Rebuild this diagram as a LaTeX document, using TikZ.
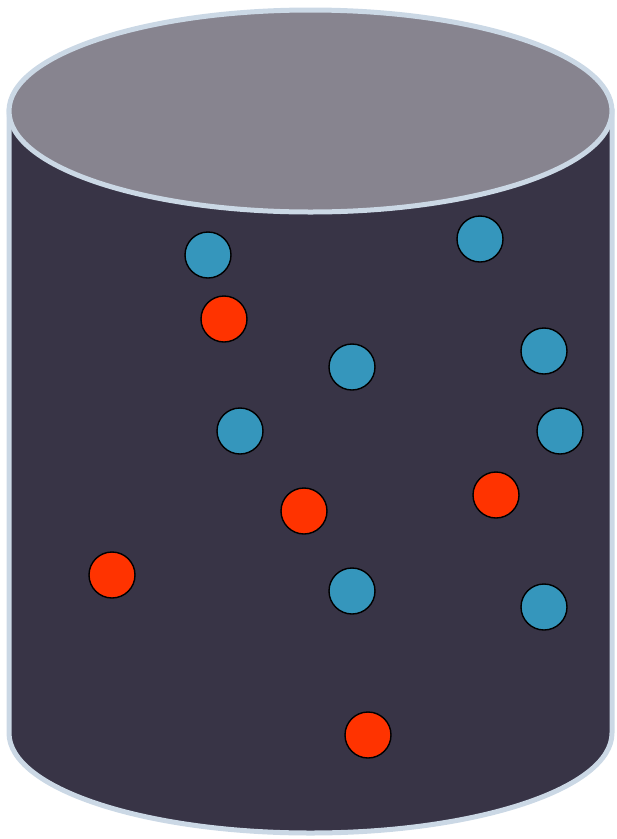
\documentclass[tikz,border=0pt]{standalone}
\definecolor{bodyc}{HTML}{383446}
\definecolor{topc}{HTML}{87848F}
\definecolor{edgec}{HTML}{CBD8E5}
\definecolor{bluec}{HTML}{3596BC}
\definecolor{redc}{HTML}{FF3300}
\begin{document}
\begin{tikzpicture}[x=1pt,y=-1pt,
  ball/.style={circle,draw=black,line width=1.4pt,minimum size=46pt,inner sep=0pt},
  bball/.style={ball,fill=bluec},
  rball/.style={ball,fill=redc}]
\useasboundingbox (0,0) rectangle (617,839);
% body
\path[fill=bodyc,draw=edgec,line width=5pt]
  (9,111) -- (9,733) arc[start angle=180,end angle=0,x radius=301.5,y radius=100] -- (612,111) -- cycle;
% top
\path[fill=topc,draw=edgec,line width=5pt] (310.5,111) ellipse[x radius=301.5,y radius=101];
% balls
\node[bball] (b1) at (208,255) {};
\node[bball] (b2) at (480,239) {};
\node[bball] (b3) at (352,367) {};
\node[bball] (b4) at (544,351) {};
\node[bball] (b5) at (240,431) {};
\node[bball] (b6) at (560,431) {};
\node[bball] (b7) at (352,591) {};
\node[bball] (b8) at (544,607) {};
\node[rball] (r1) at (224,319) {};
\node[rball] (r2) at (304,511) {};
\node[rball] (r3) at (496,495) {};
\node[rball] (r4) at (112,575) {};
\node[rball] (r5) at (368,735) {};
\end{tikzpicture}
\end{document}
